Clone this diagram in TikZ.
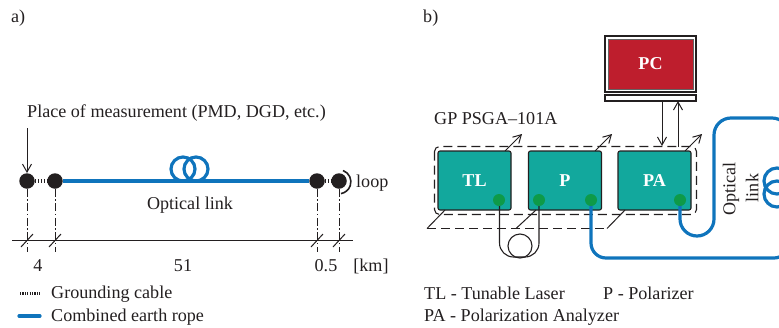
\documentclass[tikz,border=0pt]{standalone}
\usepackage{fontspec}
\setmainfont{Liberation Serif}
\usetikzlibrary{arrows.meta}
\definecolor{fiberblue}{HTML}{0F74BC}
\definecolor{boxteal}{HTML}{12A89D}
\definecolor{portgreen}{HTML}{0E9A48}
\definecolor{pcred}{HTML}{BE1E2D}
\definecolor{ink}{HTML}{231F20}
\tikzset{
  lbl/.style={inner sep=0pt,text=ink,font=\fontsize{18.1}{20}\selectfont},
  lbll/.style={lbl,anchor=west},
  dot/.style={circle,fill=ink,draw=none,minimum size=15.5pt,inner sep=0pt},
  port/.style={circle,fill=portgreen,draw=none,minimum size=12pt,inner sep=0pt},
  unitbox/.style={draw=ink,line width=1.1pt,fill=boxteal,rounded corners=2pt,minimum width=73pt,minimum height=59pt,inner sep=0pt,text=white,font=\fontsize{18.1}{20}\selectfont\bfseries},
  fiber/.style={draw=fiberblue,line width=3.2pt},
  ground/.style={draw=ink,line width=3.5pt,dash pattern=on 1.5pt off 1.5pt},
  tick/.style={draw=ink,line width=0.9pt,dash pattern=on 8pt off 2.5pt on 1.5pt off 2.5pt},
  slash/.style={draw=ink,line width=1pt},
  oarrow/.style={draw=ink,line width=1pt,-{Straight Barb[length=8pt,width=9pt,line width=1pt]}},
  dashbox/.style={draw=ink,line width=1.1pt,dash pattern=on 9pt off 5pt},
}
\begin{document}
\begin{tikzpicture}[x=1pt,y=-1pt]
\useasboundingbox (0,0) rectangle (779,327);
% panel labels
\node[lbll] (la) at (11,18) {a)};
\node[lbll] (lb) at (423,18) {b)};
% panel a
\node[lbll] (place) at (27,113) {Place of measurement (PMD, DGD, etc.)};
\node[dot] (d1) at (27,181) {};
\node[dot] (d2) at (55,181) {};
\node[dot] (d3) at (317,181) {};
\node[dot] (d4) at (339,181) {};
\coordinate (parr) at (27,128);
\draw[oarrow] (parr) -- (d1.north);
\draw[ground] (d1) -- (d2);
\draw[ground] (d3) -- (d4);
\draw[fiber] (d2) -- (d3);
\draw[fiberblue,line width=3.2pt] (183,169) circle[radius=12];
\draw[fiberblue,line width=3.2pt] (196,169) circle[radius=12];
\node[lbl] (olink) at (190,205) {Optical link};
\draw[ink,line width=1.6pt] (343,170.5) arc[start angle=-70,end angle=80,radius=12];
\node[lbll] (loop) at (356,183) {loop};
\coordinate (ax0) at (12,240.5);
\coordinate (ax1) at (353,240.5);
\draw[ink,line width=1.1pt] (ax0) -- (ax1);
\draw[ink,line width=1.8pt] (41,240.5) -- (69,240.5);
\draw[ink,line width=1.8pt] (303,240.5) -- (331,240.5);
\foreach \n/\x in {d1/27,d2/55,d3/317,d4/339}{
  \coordinate (t\n) at (\x,252);
  \draw[tick] (\n) -- (t\n);
  \draw[slash] (\x-6,247) -- (\x+6,234);
}
\node[lbl] (k4) at (38,266) {4};
\node[lbl] (k51) at (183,266) {51};
\node[lbl] (k05) at (326,266) {0.5};
\node[lbl] (km) at (371,266) {[km]};
\coordinate (g0) at (20,293); \coordinate (g1) at (40,293);
\draw[draw=ink,line width=3pt,dash pattern=on 1.2pt off 1.2pt] (g0) -- (g1);
\coordinate (b0) at (19,316); \coordinate (b1) at (40,316);
\draw[fiber,line cap=round] (b0) -- (b1);
\node[lbll] (gc) at (51,294) {Grounding cable};
\node[lbll] (cer) at (51,317) {Combined earth rope};
% panel b
\node[lbll] (gp) at (434,119) {GP PSGA–101A};
% rear dashed plane
\coordinate (r0) at (427,228.5); \coordinate (r1) at (607,228.5);
\draw[dashbox] (r0) -- (r1);
\draw[dashbox,rounded corners=5pt] (434.5,146.5) rectangle (696.5,214.5);
\node[unitbox] (tl) at (474.5,180.5) {TL};
\node[unitbox] (p) at (565,180.5) {P};
\node[unitbox] (pa) at (654.5,180.5) {PA};
\draw[slash] (r0) -- (445,210);
\draw[slash] (516,228.5) -- (536,210);
\draw[slash] (r1) -- (625,210);
\draw[oarrow] (505,151) -- (522,134);
\draw[oarrow] (595,151) -- (612,134);
\draw[oarrow] (685,151) -- (702,134);
\draw[ink,line width=1.1pt,rounded corners=14pt] (499.5,200) -- (499.5,257) -- (539,257) -- (539,200);
\draw[ink,line width=1.1pt] (520,246) circle[radius=12];
% PC
\node[draw=ink,fill=white,line width=1.1pt,minimum width=91pt,minimum height=56pt,inner sep=0pt] (mon) at (650.5,64) {};
\node[draw=ink!70,fill=pcred,line width=0.6pt,minimum width=85pt,minimum height=50pt,inner sep=0pt,text=white,font=\fontsize{18.1}{20}\selectfont\bfseries] (pc) at (650.5,64) {PC};
\node[draw=ink,fill=white,line width=1.1pt,minimum width=91pt,minimum height=6pt,inner sep=0pt] (stand) at (650.5,98) {};
\draw[oarrow] (662,101) -- (662,146);
\draw[oarrow] (678,147) -- (678,101);
% fibers
\begin{scope}
\clip (0,0) rectangle (779,327);
\draw[fiber,rounded corners=15pt] (591,200) -- (591,258) -- (789,258) -- (789,200);
\draw[fiber,rounded corners=17pt] (680,200) -- (680,236) -- (714,236) -- (714,118) -- (789,118) -- (789,160);
\draw[fiberblue,line width=3.2pt] (777,181) circle[radius=13];
\draw[fiberblue,line width=3.2pt] (777,194) circle[radius=13];
\end{scope}
\node[port] (ptl) at (499,200) {};
\node[port] (ppl) at (539,200) {};
\node[port] (ppr) at (591,200) {};
\node[port] (ppa) at (680,200) {};
\node[lbl,rotate=90] (opt) at (731,189) {Optical};
\node[lbl,rotate=90] (lnk) at (752,188) {link};
\node[lbll] (ltl) at (424,293) {TL - Tunable Laser};
\node[lbll] (lp) at (603,293) {P - Polarizer};
\node[lbll] (lpa) at (424,317) {PA - Polarization Analyzer};
\end{tikzpicture}
\end{document}
